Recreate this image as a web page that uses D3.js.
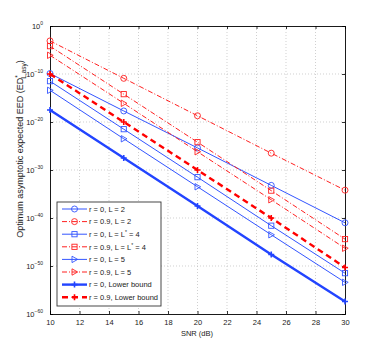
<!DOCTYPE html>
<html><head><meta charset="utf-8">
<script src="https://cdn.jsdelivr.net/npm/d3@7"></script>
<style>body{margin:0;background:#fff}svg{display:block}text{font-family:"Liberation Sans",Arial,sans-serif}</style>
</head><body>
<script>
const snr = [10, 15, 20, 25, 30];
const xTicks = [10, 12, 14, 16, 18, 20, 22, 24, 26, 28, 30];
const yTickExps = [0, -10, -20, -30, -40, -50, -60];
const b_L2 = [1.26e-10, 2.0e-18, 4.0e-26, 6.3e-34, 1.0e-41];
const r_L2 = [7.9e-4, 1.26e-11, 2.0e-19, 3.2e-27, 6.3e-35];
const b_L4 = [3.2e-12, 3.2e-22, 3.2e-32, 2.5e-42, 3.2e-52];
const r_L4 = [6.3e-5, 6.3e-15, 6.3e-25, 5.0e-35, 4.0e-45];
const b_L5 = [4.0e-14, 3.2e-24, 3.2e-34, 3.2e-44, 4.0e-54];
const r_L5 = [7.9e-7, 7.9e-17, 6.3e-27, 6.3e-37, 5.0e-47];
const b_LB = [3.2e-18, 3.2e-28, 3.2e-38, 2.5e-48, 4.0e-58];
const r_LB = [1.0e-10, 1.0e-20, 1.0e-30, 1.0e-40, 5.0e-51];
const labels = ["r = 0, L = 2", "r = 0.9, L = 2", "r = 0, L = L* = 4", "r = 0.9, L = L* = 4",
                "r = 0, L = 5", "r = 0.9, L = 5", "r = 0, Lower bound", "r = 0.9, Lower bound"];

const BLUE = "#3355ff", RED = "#ff2020";
const series = [
  {v: b_L2, c: BLUE, m: "circle", dash: null, w: 1},
  {v: r_L2, c: RED, m: "circle", dash: "5,2,1,2", w: 1},
  {v: b_L4, c: BLUE, m: "square", dash: null, w: 1},
  {v: r_L4, c: RED, m: "square", dash: "5,2,1,2", w: 1},
  {v: b_L5, c: BLUE, m: "tri", dash: null, w: 1},
  {v: r_L5, c: RED, m: "tri", dash: "5,2,1,2", w: 1},
  {v: b_LB, c: "#2244ff", m: "plus", dash: null, w: 2.4},
  {v: r_LB, c: "#ff0000", m: "plus", dash: "6,4", w: 2.4}
];

const W = 382, H = 354;
const svg = d3.select("body").append("svg").attr("width", W).attr("height", H);
const x = d3.scaleLinear().domain([10, 30]).range([50, 345]);
const y = d3.scaleLog().domain([1e-60, 1]).range([314, 26]);

// grid
const g = svg.append("g");
g.selectAll(".gx").data(xTicks.slice(1, -1)).enter().append("line")
  .attr("x1", d => x(d)).attr("x2", d => x(d)).attr("y1", 26).attr("y2", 314)
  .attr("stroke", "#bbb").attr("stroke-width", 0.7).attr("stroke-dasharray", "1,2");
g.selectAll(".gy").data(yTickExps.slice(1, -1)).enter().append("line")
  .attr("y1", d => y(Math.pow(10, d))).attr("y2", d => y(Math.pow(10, d))).attr("x1", 50).attr("x2", 345)
  .attr("stroke", "#bbb").attr("stroke-width", 0.7).attr("stroke-dasharray", "1,2");

// axes with inward ticks
const xAxB = d3.axisBottom(x).tickValues(xTicks).tickSize(-3).tickPadding(6);
const xAxT = d3.axisTop(x).tickValues(xTicks).tickSize(-3).tickFormat("");
const yVals = yTickExps.map(e => Math.pow(10, e));
const yAxL = d3.axisLeft(y).tickValues(yVals).tickSize(-3).tickFormat("");
const yAxR = d3.axisRight(y).tickValues(yVals).tickSize(-3).tickFormat("");
function style(sel){ sel.selectAll("path,line").attr("stroke","#000").attr("stroke-width",0.8); sel.selectAll("text").attr("font-size",7.5).attr("fill","#222").attr("font-family","Liberation Sans, Arial, sans-serif"); }
svg.append("g").attr("transform","translate(0,314)").call(xAxB).call(style);
svg.append("g").attr("transform","translate(0,26)").call(xAxT).call(style);
svg.append("g").attr("transform","translate(50,0)").call(yAxL).call(style);
svg.append("g").attr("transform","translate(345,0)").call(yAxR).call(style);
svg.selectAll(".domain").attr("stroke","#000").attr("stroke-width",0.9);

// y tick labels 10^k
const yl = svg.append("g");
yTickExps.forEach(e => {
  const t = yl.append("text").attr("x", 43).attr("y", y(Math.pow(10, e)) + 3)
    .attr("text-anchor", "end").attr("font-size", 7.5).attr("fill", "#222");
  t.append("tspan").text("10");
  t.append("tspan").attr("dy", -4).attr("font-size", 5).text(e === 0 ? "0" : "\u2212" + (-e));
});

// axis titles
svg.append("text").attr("x", 197).attr("y", 336).attr("text-anchor", "middle")
  .attr("font-size", 7.5).attr("fill", "#222").text("SNR (dB)");
const yt = svg.append("text").attr("transform", "translate(23,149) rotate(-90)")
  .attr("text-anchor", "middle").attr("font-size", 9).attr("fill", "#222");
yt.append("tspan").text("Optimum asymptotic expected EED (ED");
yt.append("tspan").attr("dy", -3.5).attr("font-size", 6.5).text("*");
yt.append("tspan").attr("dy", 6).attr("dx", -3.5).attr("font-size", 6.5).text("L,asy");
yt.append("tspan").attr("dy", -2.5).text(")");

function marker(sel, m, c, w) {
  const sw = w > 1.5 ? 1.6 : 0.9;
  if (m === "circle") sel.append("circle").attr("r", 3).attr("fill", "none").attr("stroke", c).attr("stroke-width", sw);
  else if (m === "square") sel.append("rect").attr("x", -2.6).attr("y", -2.6).attr("width", 5.2).attr("height", 5.2).attr("fill", "none").attr("stroke", c).attr("stroke-width", sw);
  else if (m === "tri") sel.append("path").attr("d", "M-2.5,-3.2L3.2,0L-2.5,3.2Z").attr("fill", "none").attr("stroke", c).attr("stroke-width", sw);
  else if (m === "plus") sel.append("path").attr("d", "M-3,0H3M0,-3V3").attr("fill", "none").attr("stroke", c).attr("stroke-width", sw);
}

const line = d3.line().x((d, i) => x(snr[i])).y(d => y(d));
const plot = svg.append("g");
series.forEach(s => {
  plot.append("path").datum(s.v).attr("d", line).attr("fill", "none").attr("stroke", s.c)
    .attr("stroke-width", s.w).attr("stroke-dasharray", s.dash);
  s.v.forEach((d, i) => {
    const mg = plot.append("g").attr("transform", `translate(${x(snr[i])},${y(d)})`);
    marker(mg, s.m, s.c, s.w);
  });
});

// legend
const lg = svg.append("g");
lg.append("rect").attr("x", 57).attr("y", 202).attr("width", 104).attr("height", 104)
  .attr("fill", "#fff").attr("stroke", "#333").attr("stroke-width", 0.9);
series.forEach((s, i) => {
  const yy = 209 + i * 12.6;
  lg.append("line").attr("x1", 62).attr("x2", 87).attr("y1", yy).attr("y2", yy)
    .attr("stroke", s.c).attr("stroke-width", s.w).attr("stroke-dasharray", s.dash);
  marker(lg.append("g").attr("transform", `translate(74.5,${yy})`), s.m, s.c, s.w);
  const t = lg.append("text").attr("x", 89).attr("y", yy + 2.7).attr("font-size", 7.5).attr("fill", "#222");
  const lab = labels[i];
  if (lab.includes("L*")) {
    const parts = lab.split("L*");
    t.append("tspan").text(parts[0] + "L");
    t.append("tspan").attr("dy", -3).attr("font-size", 5).text("*");
    t.append("tspan").attr("dy", 3).text(parts[1]);
  } else t.text(lab);
});
</script>
</body></html>
